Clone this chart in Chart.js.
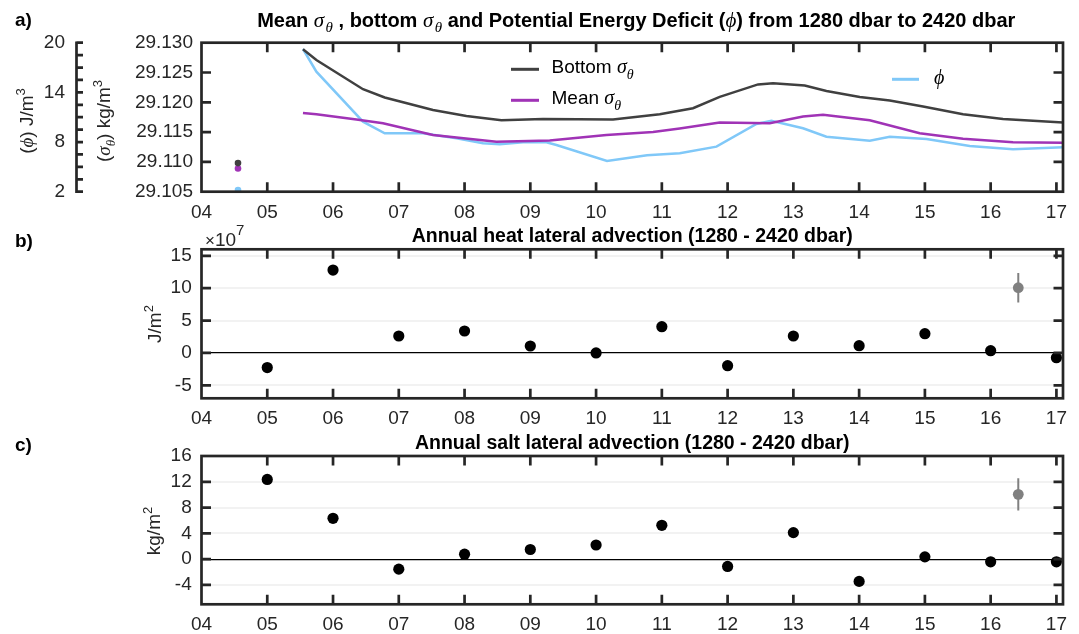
<!DOCTYPE html>
<html>
<head>
<meta charset="utf-8">
<script src="https://cdn.jsdelivr.net/npm/chart.js@4.4.1/dist/chart.umd.min.js"></script>
<style>
  html, body { margin: 0; padding: 0; background: #ffffff; }
  #wrap { position: relative; width: 1079px; height: 634px; overflow: hidden; }
  #wrap canvas { position: absolute; left: 0; top: 0; }
</style>
</head>
<body>
<div id="wrap">
  <canvas id="panelA" width="1079" height="634"></canvas>
  <canvas id="panelB" width="1079" height="634"></canvas>
  <canvas id="panelC" width="1079" height="634"></canvas>
</div>
<script>
// ---------------- data ----------------
// time axis: years since 2000 (tick labels are two-digit years)
const yearTicks  = [4, 5, 6, 7, 8, 9, 10, 11, 12, 13, 14, 15, 16, 17];
const yearLabels = ['04', '05', '06', '07', '08', '09', '10', '11', '12', '13', '14', '15', '16', '17'];

// a) isolated first cast
const firstCastYear   = 4.555;
const firstCastBottom = 29.1098;
const firstCastMean   = 29.1089;
const firstCastPhi    = 2.2;

// a) bottom sigma-theta (kg/m3)
const bottomYear  = [5.543, 5.747, 6.456, 6.786, 7.520, 8.028, 8.561, 9.193, 10.258, 10.968, 11.474, 11.880,
                     12.463, 12.691, 13.173, 13.503, 14.010, 14.466, 14.972, 15.580, 16.188, 17.101];
const bottomSigma = [29.1289, 29.1271, 29.1222, 29.1208, 29.1187, 29.1177, 29.1170, 29.1172, 29.1171, 29.1180,
                     29.1190, 29.1209, 29.1230, 29.1232, 29.1228, 29.1219, 29.1209, 29.1203, 29.1193, 29.1180,
                     29.1172, 29.1166];

// a) mean sigma-theta (kg/m3)
const meanYear  = [5.543, 5.747, 6.356, 6.760, 7.520, 8.485, 9.295, 10.157, 10.866, 11.272, 11.880, 12.640,
                   13.147, 13.451, 14.161, 14.921, 15.580, 16.340, 17.101];
const meanSigma = [29.1182, 29.1180, 29.1171, 29.1165, 29.1145, 29.1134, 29.1136, 29.1145, 29.1150, 29.1156,
                   29.1166, 29.1165, 29.1176, 29.1179, 29.1170, 29.1148, 29.1139, 29.1133, 29.1132];

// a) potential energy deficit phi (J/m3)
const phiYear  = [5.543, 5.747, 6.456, 6.786, 7.368, 7.876, 8.281, 8.535, 8.889, 9.245, 9.397, 10.166, 10.775,
                  11.272, 11.830, 12.438, 12.666, 13.147, 13.503, 14.161, 14.466, 15.024, 15.682, 16.340, 17.101];
const phiValue = [19.24, 16.5, 10.46, 9.05, 9.05, 8.45, 7.85, 7.73, 7.97, 7.97, 7.64, 5.71, 6.4,
                  6.64, 7.44, 10.18, 10.58, 9.66, 8.64, 8.16, 8.64, 8.37, 7.52, 7.12, 7.36];

const sigmaTicks      = [29.105, 29.110, 29.115, 29.120, 29.125, 29.130];
const sigmaTickLabels = ['29.105', '29.110', '29.115', '29.120', '29.125', '29.130'];
const phiTicks        = [2, 8, 14, 20];
const phiMinorTicks   = [2, 3.5, 5, 6.5, 8, 9.5, 11, 12.5, 14, 15.5, 17, 18.5, 20];

// b) annual heat lateral advection (x 1e7 J/m2) and c) annual salt lateral advection (kg/m2)
const advYear = [5, 6, 7, 8, 9, 10, 11, 12, 13, 14, 15, 16, 17];
const heatAdv = [-2.25, 12.8, 2.62, 3.39, 1.07, 0.0, 4.05, -1.97, 2.62, 1.12, 2.97, 0.35, -0.73];
const saltAdv = [12.36, 6.34, -1.55, 0.77, 1.5, 2.2, 5.25, -1.13, 4.12, -3.45, 0.36, -0.41, -0.41];

// mean +/- spread shown at the right of b) and c)
const summaryYear = 16.42;
const heatMean = 10.07, heatSpread = 2.27;
const saltMean = 10.05, saltSpread = 2.5;

const heatTicks = [-5, 0, 5, 10, 15];
const saltTicks = [-4, 0, 4, 8, 12, 16];

// ---------------- styling ----------------
const SANS  = '"Liberation Sans", Arial, Helvetica, sans-serif';
const GREEK = '"Liberation Serif", "DejaVu Serif", serif';
const INK = '#262626';
const C_BOTTOM = '#404040';
const C_MEAN   = '#a033b6';
const C_PHI    = '#80c8f8';
const C_GREY   = '#808080';
const TICK = 9.5;
const FS = 19;
const FT = 19.5;   // panel titles

Chart.defaults.font.family = SANS;
Chart.defaults.font.size = FS;
Chart.defaults.color = INK;
Chart.defaults.animation = false;

const fReg  = (s) => `${s}px ${SANS}`;
const fBold = (s) => `bold ${s}px ${SANS}`;
const fGr   = (s) => `italic ${s}px ${GREEK}`;

// draws a run of text pieces [text, font, dy] along a baseline
function drawRich(ctx, parts, x, y, align) {
  let w = 0;
  parts.forEach(p => { ctx.font = p[1]; w += ctx.measureText(p[0]).width; });
  let cx = align === 'center' ? x - w / 2 : (align === 'right' ? x - w : x);
  ctx.textAlign = 'left';
  ctx.textBaseline = 'alphabetic';
  parts.forEach(p => {
    ctx.font = p[1];
    ctx.fillText(p[0], cx, y + (p[2] || 0));
    cx += ctx.measureText(p[0]).width;
  });
}
function drawRichVertical(ctx, parts, x, y) {
  ctx.save();
  ctx.translate(x, y);
  ctx.rotate(-Math.PI / 2);
  drawRich(ctx, parts, 0, 0, 'center');
  ctx.restore();
}

// box frame with inward ticks on all four sides
function frameTicks(yId) {
  return {
    id: 'frameTicks',
    afterDatasetsDraw(chart) {
      const { ctx, chartArea: a } = chart;
      const xs = chart.scales.x, ys = chart.scales[yId];
      ctx.save();
      ctx.strokeStyle = INK;
      ctx.lineWidth = 2.7;
      ctx.lineCap = 'butt';
      ctx.beginPath();
      xs.ticks.forEach(t => {
        const p = xs.getPixelForValue(t.value);
        if (p < a.left + 2 || p > a.right - 2) return;
        ctx.moveTo(p, a.bottom); ctx.lineTo(p, a.bottom - TICK);
        ctx.moveTo(p, a.top);    ctx.lineTo(p, a.top + TICK);
      });
      ys.ticks.forEach(t => {
        const p = ys.getPixelForValue(t.value);
        if (p < a.top + 2 || p > a.bottom - 2) return;
        ctx.moveTo(a.left, p);  ctx.lineTo(a.left + TICK, p);
        ctx.moveTo(a.right, p); ctx.lineTo(a.right - TICK, p);
      });
      ctx.stroke();
      ctx.strokeRect(a.left, a.top, a.right - a.left, a.bottom - a.top);
      ctx.restore();
    }
  };
}

const setTicks = (values) => (scale) => { scale.ticks = values.map(v => ({ value: v })); };

function yearAxis() {
  return {
    type: 'linear', position: 'bottom', min: 4, max: 17.1,
    afterBuildTicks: setTicks(yearTicks),
    afterFit: (s) => { s.height = 28; },
    ticks: { callback: (v, i) => yearLabels[i], padding: 9.5, autoSkip: false, maxRotation: 0, color: INK },
    grid: { display: false, drawTicks: false },
    border: { display: false }
  };
}

const toPoints = (xs, ys) => xs.map((x, i) => ({ x: x, y: ys[i] }));
const withFirstCast = (x0, y0, xs, ys) => [{ x: x0, y: y0 }, { x: x0, y: null }].concat(toPoints(xs, ys));

const baseOptions = (padding) => ({
  responsive: false,
  animation: false,
  events: [],
  layout: { padding: padding, autoPadding: false },
  plugins: { legend: { display: false }, tooltip: { enabled: false }, title: { display: false } }
});

// ---------------- a) densities and potential energy deficit ----------------
const decorA = {
  id: 'decorA',
  afterDraw(chart) {
    const ctx = chart.ctx;
    const a = chart.chartArea;
    const phi = chart.scales.yPhi;
    ctx.save();
    ctx.fillStyle = '#000';
    drawRich(ctx, [['a)', fBold(FS)]], 15, 26, 'left');
    drawRich(ctx, [
      ['Mean ', fBold(20)], ['\u03c3', fGr(21)], [' ', fBold(5)], ['\u03b8', fGr(15), 5],
      [' , bottom ', fBold(20)], ['\u03c3', fGr(21)], [' ', fBold(5)], ['\u03b8', fGr(15), 5],
      [' and Potential Energy Deficit (', fBold(20)], ['\u03d5', fGr(21)],
      [') from 1280 dbar to 2420 dbar', fBold(20)]
    ], (a.left + a.right) / 2 + 4, 26.5, 'center');

    // detached phi axis
    const xAx = 76.5;
    ctx.strokeStyle = INK;
    ctx.lineWidth = 2.7;
    ctx.beginPath();
    ctx.moveTo(xAx, a.top - 1.3); ctx.lineTo(xAx, a.bottom + 1.3);
    phiMinorTicks.forEach(v => {
      const p = phi.getPixelForValue(v);
      ctx.moveTo(xAx, p); ctx.lineTo(xAx + 6.5, p);
    });
    ctx.stroke();

    ctx.fillStyle = INK;
    drawRichVertical(ctx, [['(', fReg(FS)], ['\u03d5', fGr(FS)], [') J/m', fReg(FS)], ['3', fReg(13), -8]], 33, 121);
    drawRichVertical(ctx, [['(', fReg(FS)], ['\u03c3', fGr(FS)], ['\u03b8', fGr(13), 5], [') kg/m', fReg(FS)], ['3', fReg(13), -8]], 110, 121);

    // legend
    const ds = chart.data.datasets;
    ctx.lineWidth = 3;
    ctx.strokeStyle = ds[0].borderColor;
    ctx.beginPath(); ctx.moveTo(511, 69.3); ctx.lineTo(539, 69.3); ctx.stroke();
    ctx.strokeStyle = ds[1].borderColor;
    ctx.beginPath(); ctx.moveTo(511, 100.3); ctx.lineTo(539, 100.3); ctx.stroke();
    ctx.strokeStyle = ds[2].borderColor;
    ctx.beginPath(); ctx.moveTo(892, 79.3); ctx.lineTo(919, 79.3); ctx.stroke();
    ctx.fillStyle = '#000';
    drawRich(ctx, [['Bottom ', fReg(FS)], ['\u03c3', fGr(20)], ['\u03b8', fGr(14), 6]], 551.5, 72.5, 'left');
    drawRich(ctx, [['Mean ', fReg(FS)], ['\u03c3', fGr(20)], ['\u03b8', fGr(14), 6]], 551.5, 104, 'left');
    drawRich(ctx, [['\u03d5', fGr(20)]], 934, 83.5, 'left');
    ctx.restore();
  }
};

new Chart(document.getElementById('panelA'), {
  type: 'scatter',
  data: {
    datasets: [
      {
        label: 'Bottom \u03c3\u03b8', yAxisID: 'ySig', showLine: true,
        data: withFirstCast(firstCastYear, firstCastBottom, bottomYear, bottomSigma),
        borderColor: C_BOTTOM, backgroundColor: C_BOTTOM, borderWidth: 2.5,
        pointRadius: (c) => (c.dataIndex === 0 ? 3.3 : 0), pointBorderWidth: 0
      },
      {
        label: 'Mean \u03c3\u03b8', yAxisID: 'ySig', showLine: true,
        data: withFirstCast(firstCastYear, firstCastMean, meanYear, meanSigma),
        borderColor: C_MEAN, backgroundColor: C_MEAN, borderWidth: 2.5,
        pointRadius: (c) => (c.dataIndex === 0 ? 3.3 : 0), pointBorderWidth: 0
      },
      {
        label: '\u03d5', yAxisID: 'yPhi', showLine: true,
        data: withFirstCast(firstCastYear, firstCastPhi, phiYear, phiValue),
        borderColor: C_PHI, backgroundColor: C_PHI, borderWidth: 2.5,
        pointRadius: (c) => (c.dataIndex === 0 ? 3.3 : 0), pointBorderWidth: 0
      }
    ]
  },
  options: Object.assign(baseOptions({ left: 0, right: 16, top: 42.7, bottom: 414.3 }), {
    scales: {
      x: yearAxis(),
      ySig: {
        type: 'linear', position: 'left', weight: 0, min: 29.105, max: 29.13,
        afterBuildTicks: setTicks(sigmaTicks),
        afterFit: (s) => { s.width = 124.5; },
        ticks: { callback: (v, i) => sigmaTickLabels[i], padding: 8.5, autoSkip: false },
        grid: { display: false, drawTicks: false }, border: { display: false }
      },
      yPhi: {
        type: 'linear', position: 'left', weight: 1, min: 2, max: 20,
        afterBuildTicks: setTicks(phiTicks),
        afterFit: (s) => { s.width = 77; },
        ticks: { padding: 12, autoSkip: false },
        grid: { display: false, drawTicks: false }, border: { display: false }
      }
    }
  }),
  plugins: [frameTicks('ySig'), decorA]
});

// ---------------- b) and c) annual advection ----------------
function advectionPanel(canvasId, padding, values, mean, spread, ticks, decor) {
  new Chart(document.getElementById(canvasId), {
    type: 'scatter',
    data: {
      datasets: [
        {
          data: toPoints(advYear, values),
          pointRadius: 5.6, pointBackgroundColor: '#000', pointBorderColor: '#000', pointBorderWidth: 0
        },
        {
          data: [{ x: summaryYear, y: mean }],
          pointRadius: 5.4, pointBackgroundColor: C_GREY, pointBorderColor: C_GREY, pointBorderWidth: 0
        },
        {
          data: [{ x: summaryYear, y: mean - spread }, { x: summaryYear, y: mean + spread }],
          showLine: true, borderColor: C_GREY, borderWidth: 2, pointRadius: 0
        }
      ]
    },
    options: Object.assign(baseOptions(padding), {
      scales: {
        x: yearAxis(),
        y: {
          type: 'linear', position: 'left', min: -7, max: 16,
          afterBuildTicks: setTicks(ticks),
          afterFit: (s) => { s.width = 201.5; },
          ticks: { padding: 9.8, autoSkip: false },
          grid: {
            drawTicks: false,
            color: (c) => (c.tick && c.tick.value === 0 ? '#000000' : '#f2f2f2'),
            lineWidth: (c) => (c.tick && c.tick.value === 0 ? 1.2 : 2)
          },
          border: { display: false }
        }
      }
    }),
    plugins: [frameTicks('y'), decor]
  });
}

advectionPanel('panelB', { left: 0, right: 16, top: 249.3, bottom: 207.7 }, heatAdv, heatMean, heatSpread, heatTicks, {
  id: 'decorB',
  afterDraw(chart) {
    const ctx = chart.ctx, a = chart.chartArea;
    ctx.save();
    ctx.fillStyle = '#000';
    drawRich(ctx, [['b)', fBold(FS)]], 15, 247, 'left');
    drawRich(ctx, [['Annual heat lateral advection (1280 - 2420 dbar)', fBold(FT)]], (a.left + a.right) / 2, 241.7, 'center');
    ctx.fillStyle = INK;
    drawRich(ctx, [['\u00d7', fReg(17)], ['10', fReg(FS)], ['7', fReg(15), -11]], 205, 245.5, 'left');
    drawRichVertical(ctx, [['J/m', fReg(FS)], ['2', fReg(13), -8]], 160.5, 324);
    ctx.restore();
  }
});

advectionPanel('panelC', { left: 0, right: 16, top: 456, bottom: 1.7 }, saltAdv, saltMean, saltSpread, saltTicks, {
  id: 'decorC',
  afterDraw(chart) {
    const ctx = chart.ctx, a = chart.chartArea;
    ctx.save();
    ctx.fillStyle = '#000';
    drawRich(ctx, [['c)', fBold(FS)]], 15, 451, 'left');
    drawRich(ctx, [['Annual salt lateral advection (1280 - 2420 dbar)', fBold(FT)]], (a.left + a.right) / 2, 449.3, 'center');
    ctx.fillStyle = INK;
    drawRichVertical(ctx, [['kg/m', fReg(FS)], ['2', fReg(13), -8]], 159.5, 531);
    ctx.restore();
  }
});
</script>
</body>
</html>
